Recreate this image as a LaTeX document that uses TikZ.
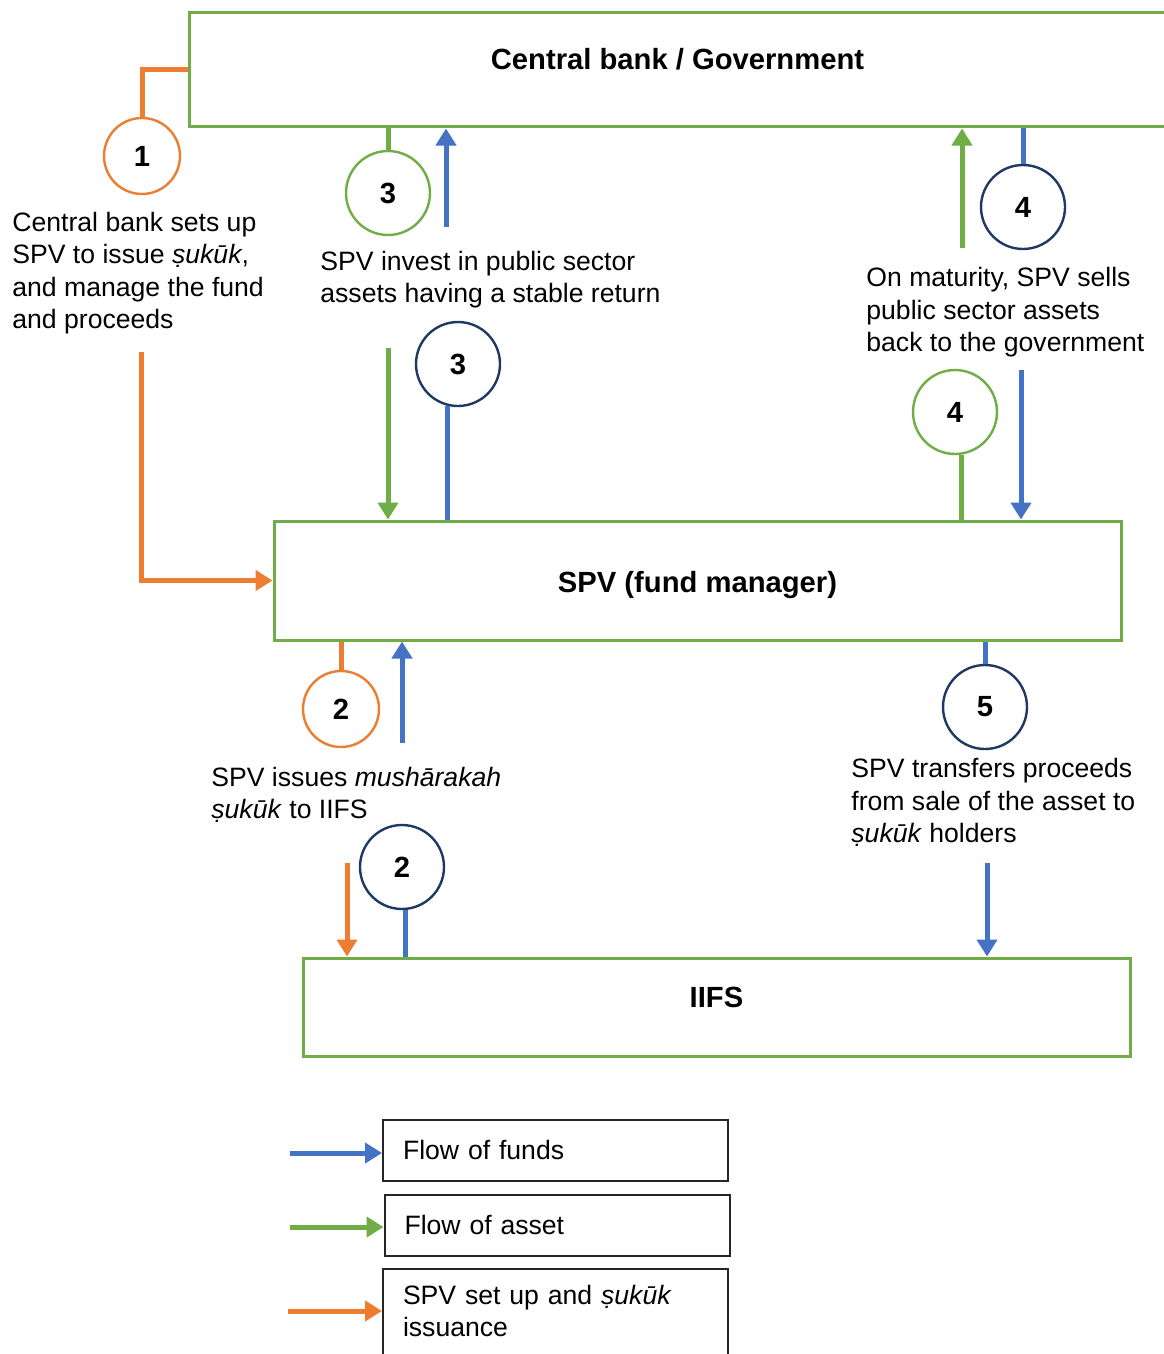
\documentclass[tikz,border=0pt]{standalone}
\usepackage{fontspec}
\setmainfont{Liberation Sans}
\usepackage{tikz}
\usetikzlibrary{arrows.meta}
\definecolor{fundblue}{HTML}{4472C4}
\definecolor{assetgreen}{HTML}{70AD47}
\definecolor{issueorange}{HTML}{ED7D31}
\definecolor{stepnavy}{HTML}{203864}
\newcommand{\notefont}{\fontsize{13.3}{16.25}\selectfont}
\newcommand{\partyfont}{\fontsize{14.6}{17.5}\selectfont\bfseries}
\tikzstyle{party} = [rectangle, draw=assetgreen, line width=1.5pt, inner sep=0pt, font=\partyfont]
\tikzstyle{stepcircle} = [circle, draw, line width=1.2pt, fill=white, minimum size=42pt, inner sep=0pt, font=\partyfont]
\tikzstyle{legendbox} = [rectangle, draw=black!85, line width=1pt, minimum width=172.5pt, minimum height=30.5pt, text width=152.5pt, inner xsep=10pt, align=left, font=\notefont]
\tikzstyle{note} = [align=left, inner sep=0pt, anchor=base west, font=\notefont]
\tikzstyle{flow} = [line width=2.5pt, -{Triangle[width=10pt,length=8.5pt]}]
\tikzstyle{link} = [line width=2.5pt]

\begin{document}
\begin{tikzpicture}[x=0.5pt, y=-0.5pt]
        \useasboundingbox (0,0) rectangle (1163,1354);
        \node (cb) [party, minimum width=488.5pt, minimum height=57pt, label={[font=\partyfont, yshift=5.5pt]center:Central bank / Government}] at (677.5,70) {};
        \node (spv) [party, minimum width=423.5pt, minimum height=59.5pt, label={[font=\partyfont, yshift=-2.5pt]center:SPV (fund manager)}] at (697.5,580.5) {};
        \node (iifs) [party, minimum width=413.5pt, minimum height=49pt, label={[font=\partyfont, yshift=5pt]center:IIFS}] at (716.5,1007) {};
        \node (s1) [stepcircle, draw=issueorange, minimum size=38pt] at (142,156) {1};
        \node (s3a) [stepcircle, draw=assetgreen] at (388,193) {3};
        \node (s3f) [stepcircle, draw=stepnavy] at (458,364) {3};
        \node (s4f) [stepcircle, draw=stepnavy] at (1023,207) {4};
        \node (s4a) [stepcircle, draw=assetgreen] at (955,412) {4};
        \node (s2i) [stepcircle, draw=issueorange, minimum size=38pt] at (341,709) {2};
        \node (s2f) [stepcircle, draw=stepnavy] at (402,867) {2};
        \node (s5f) [stepcircle, draw=stepnavy] at (985,707) {5};
        \node (n1) [note] at (12,328.5) {Central bank sets up\\SPV to issue \textit{ṣukūk},\\and manage the fund\\and proceeds};
        \node (n3) [note] at (320,302.5) {SPV invest in public sector\\assets having a stable return};
        \node (n4) [note] at (866,351.5) {On maturity, SPV sells\\public sector assets\\back to the government};
        \node (n2) [note] at (211,818.5) {SPV issues \textit{mushārakah}\\\textit{ṣukūk} to IIFS};
        \node (n5) [note] at (851,842.5) {SPV transfers proceeds\\from sale of the asset to\\\textit{ṣukūk} holders};
        \node (lfunds) [legendbox] at (555.5,1150) {Flow of funds};
        \node (lasset) [legendbox] at (557,1225) {Flow of asset};
        \node (lissue) [legendbox, anchor=north, inner ysep=8pt, text depth=40pt] at (555.5,1268) {SPV set up and \textit{ṣukūk}\\issuance};
        \coordinate (i1top) at (141,352);
        \coordinate (f3up) at (446,227);
        \coordinate (a3down) at (388,348);
        \coordinate (a4up) at (962,248);
        \coordinate (f4down) at (1021,370);
        \coordinate (f2up) at (402,743);
        \coordinate (i2down) at (347,863);
        \coordinate (f5down) at (987,863);
        \coordinate (kfunds) at (290,1153);
        \coordinate (kasset) at (290,1227);
        \coordinate (kissue) at (288,1311);
        \draw [link, issueorange] (s1.north) |- (cb.west);
        \draw [flow, issueorange] (i1top) |- (spv.west);
        \draw [link, assetgreen] (s3a.north) -- (s3a.north |- cb.south);
        \draw [flow, fundblue] (f3up) -- (f3up |- cb.south);
        \draw [flow, assetgreen] (a3down) -- (a3down |- spv.north);
        \draw [link, fundblue] (s3f.-104) -- (s3f.-104 |- spv.north);
        \draw [link, fundblue] (s4f.north) -- (s4f.north |- cb.south);
        \draw [flow, assetgreen] (a4up) -- (a4up |- cb.south);
        \draw [link, assetgreen] (s4a.-82) -- (s4a.-82 |- spv.north);
        \draw [flow, fundblue] (f4down) -- (f4down |- spv.north);
        \draw [link, issueorange] (s2i.north) -- (s2i.north |- spv.south);
        \draw [flow, fundblue] (f2up) -- (f2up |- spv.south);
        \draw [flow, issueorange] (i2down) -- (i2down |- iifs.north);
        \draw [link, fundblue] (s2f.-86) -- (s2f.-86 |- iifs.north);
        \draw [link, fundblue] (s5f.north) -- (s5f.north |- spv.south);
        \draw [flow, fundblue] (f5down) -- (f5down |- iifs.north);
        \draw [flow, fundblue] (kfunds) -- (kfunds -| lfunds.west);
        \draw [flow, assetgreen] (kasset) -- (kasset -| lasset.west);
        \draw [flow, issueorange] (kissue) -- (kissue -| lissue.west);
\end{tikzpicture}
\end{document}
